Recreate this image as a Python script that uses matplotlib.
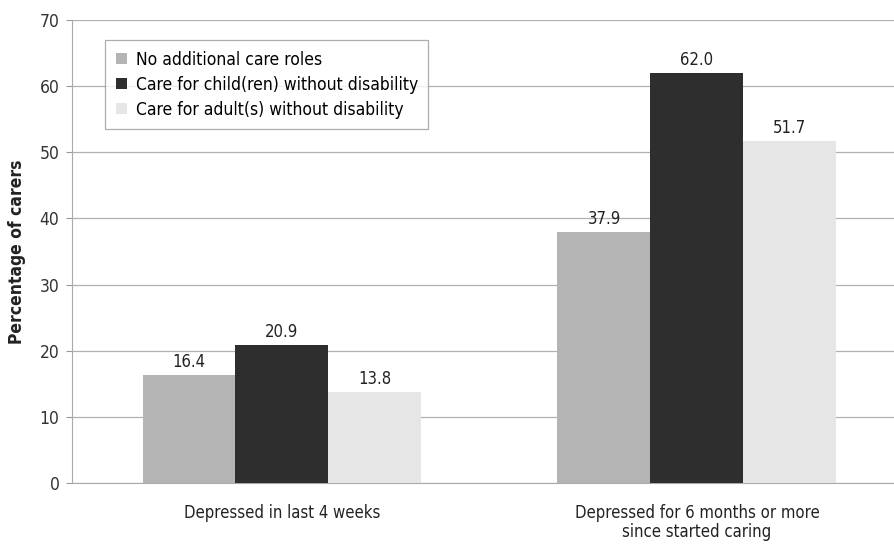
import matplotlib
matplotlib.use("Agg")
import matplotlib.pyplot as plt
import numpy as np

plt.rcParams['font.family'] = ['DejaVu Sans']
plt.rcParams['font.stretch'] = 'condensed'

categories = ["Depressed in last 4 weeks", "Depressed for 6 months or more\nsince started caring"]
series_names = ["No additional care roles", "Care for child(ren) without disability", "Care for adult(s) without disability"]
no_additional = [16.4, 37.9]
care_child = [20.9, 62.0]
care_adult = [13.8, 51.7]
yticks = [0, 10, 20, 30, 40, 50, 60, 70]

colors = ["#b4b4b4", "#2e2e2e", "#e6e6e6"]

fig = plt.figure(figsize=(8.94, 5.46), dpi=100)
ax = fig.add_axes([0.0805, 0.1154, 0.9195, 0.848])

x = np.arange(len(categories))
w = 0.224
for i, (vals, c, name) in enumerate(zip([no_additional, care_child, care_adult], colors, series_names)):
    bars = ax.bar(x + (i - 1) * w, vals, w, color=c, label=name, zorder=3)
    for b, v in zip(bars, vals):
        ax.text(b.get_x() + b.get_width() / 2, v + 0.6, f"{v:.1f}", ha="center", va="bottom",
                fontsize=12, color="#222222")

ax.set_xlim(-0.506, 1.475)
ax.set_ylim(0, 70)
ax.set_yticks(yticks)
ax.set_yticklabels([str(t) for t in yticks], fontsize=12.5, color="#333333")
ax.set_xticks(x)
ax.set_xticklabels(categories, fontsize=12, color="#222222", linespacing=1.05)
ax.tick_params(axis="x", length=0, pad=15)
ax.tick_params(axis="y", length=4, width=0.8, color="#999999", pad=5)
ax.yaxis.grid(True, color="#b0b0b0", linewidth=0.9, zorder=0)
ax.set_ylabel("Percentage of carers", fontsize=12.5, fontweight="bold", color="#222222", labelpad=10)
for s in ["top", "right"]:
    ax.spines[s].set_visible(False)
ax.spines["left"].set_color("#aaaaaa")
ax.spines["bottom"].set_color("#aaaaaa")

leg = ax.legend(loc="upper left", bbox_to_anchor=(0.03, 0.975), fontsize=12.5, frameon=True,
                fancybox=False, edgecolor="#999999", handlelength=0.65, handleheight=0.65,
                handletextpad=0.5, borderpad=0.6, labelspacing=0.4)
leg.get_frame().set_linewidth(0.9)

fig.savefig("out.png", dpi=100)
